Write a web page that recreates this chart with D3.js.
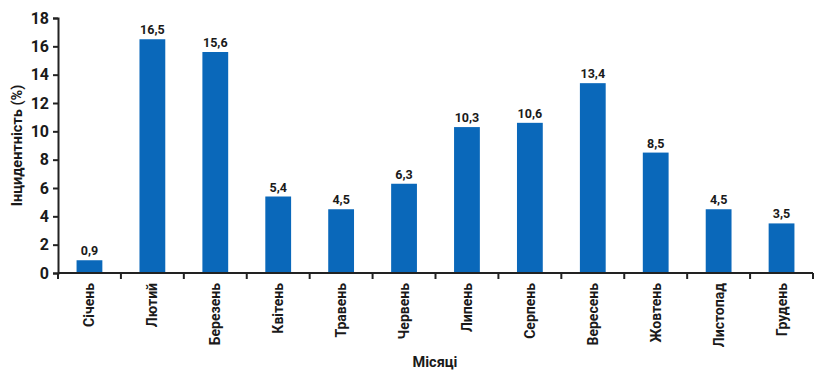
<!DOCTYPE html>
<html lang="uk">
<head>
<meta charset="UTF-8">
<title>Інцидентність</title>
<script src="https://cdn.jsdelivr.net/npm/d3@7/dist/d3.min.js"></script>
<style>
  body{margin:0;background:#fff;}
  text{font-family:"Roboto","DejaVu Sans Condensed",sans-serif;fill:#1a1a1a;}
</style>
</head>
<body>
<script>
    // дані
    var months=["Січень","Лютий","Березень","Квітень","Травень","Червень","Липень","Серпень","Вересень","Жовтень","Листопад","Грудень"];
    var values=[0.9,16.5,15.6,5.4,4.5,6.3,10.3,10.6,13.4,8.5,4.5,3.5];
    var yTicks=[0,2,4,6,8,10,12,14,16,18];

    var width=816,height=372;
    var margin={top:18,right:3,bottom:99,left:58};

    var svg=d3.select("body").append("svg")
        .attr("width",width)
        .attr("height",height);

    var xScale=d3.scaleBand().domain(months).range([margin.left,width-margin.right]).paddingInner(0.59).paddingOuter(0.295);
    var yScale=d3.scaleLinear().domain([0,18]).range([height-margin.bottom,margin.top]);

    // стовпчики
    svg.selectAll("rect.bar").data(values).enter().append("rect")
        .attr("class","bar")
        .attr("x",function(d,i){return xScale(months[i]);})
        .attr("y",function(d){return yScale(d);})
        .attr("width",xScale.bandwidth())
        .attr("height",function(d){return yScale(0)-yScale(d);})
        .attr("fill","#0a68ba");

    // підписи значень
    svg.selectAll("text.val").data(values).enter().append("text")
        .attr("class","val")
        .attr("x",function(d,i){return xScale(months[i])+xScale.bandwidth()/2;})
        .attr("y",function(d){return yScale(d)-5;})
        .attr("text-anchor","middle")
        .attr("font-size",12.5)
        .attr("font-weight","bold")
        .text(function(d){return d.toFixed(1).replace(".",",");});

    // вісь y
    var yAxis=d3.axisLeft(yScale).tickValues(yTicks).tickSize(5).tickPadding(4);
    var gy=svg.append("g")
        .attr("transform","translate("+margin.left+",0)")
        .call(yAxis);
    gy.select(".domain").attr("stroke","#222").attr("stroke-width",2);
    gy.selectAll(".tick line").attr("stroke","#222").attr("stroke-width",2);
    gy.selectAll(".tick text").attr("font-size",16).attr("font-weight","bold").attr("fill","#1a1a1a")
        .style("font-family","Roboto,sans-serif");

    // вісь x
    var gx=svg.append("g").attr("transform","translate(0,"+yScale(0)+")");
    gx.append("line")
        .attr("x1",margin.left).attr("x2",width-margin.right)
        .attr("stroke","#222").attr("stroke-width",2);
    gx.selectAll("line.sep").data(months).enter().append("line")
        .attr("class","sep")
        .attr("x1",function(d){return xScale(d)+xScale.bandwidth()/2+xScale.step()/2;})
        .attr("x2",function(d){return xScale(d)+xScale.bandwidth()/2+xScale.step()/2;})
        .attr("y1",0).attr("y2",6)
        .attr("stroke","#222").attr("stroke-width",2);
    gx.append("line")
        .attr("x1",margin.left).attr("x2",margin.left).attr("y1",0).attr("y2",6)
        .attr("stroke","#222").attr("stroke-width",2);
    gx.selectAll("text.cat").data(months).enter().append("text")
        .attr("class","cat")
        .attr("transform",function(d){
            return "translate("+(xScale(d)+xScale.bandwidth()/2+5)+",10) rotate(-90)";
        })
        .attr("text-anchor","end")
        .attr("font-size",14)
        .attr("font-weight","bold")
        .text(function(d){return d;});

    // назви осей
    svg.append("text")
        .attr("transform","translate(22,"+((margin.top+yScale(0))/2)+") rotate(-90)")
        .attr("text-anchor","middle")
        .attr("font-size",14.5)
        .attr("font-weight","bold")
        .text("Інцидентність (%)");
    svg.append("text")
        .attr("x",435).attr("y",367)
        .attr("text-anchor","middle")
        .attr("font-size",14.5)
        .attr("font-weight","bold")
        .text("Місяці");
</script>
</body>
</html>
